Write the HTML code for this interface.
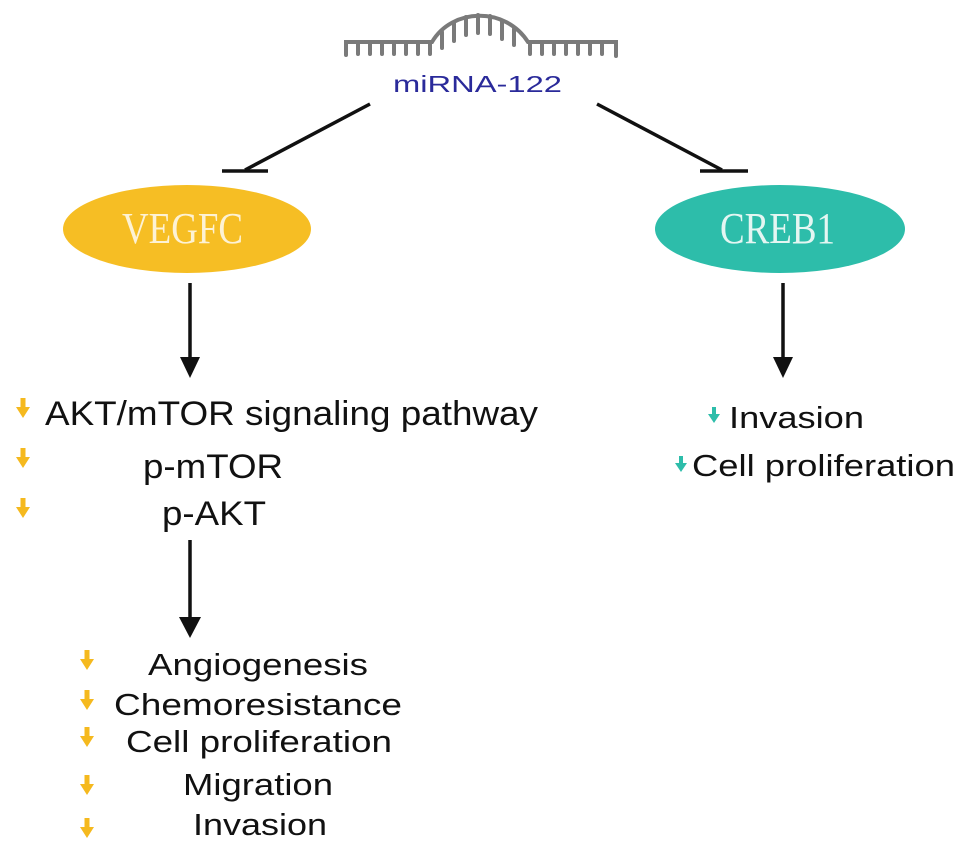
<!DOCTYPE html>
<html><head><meta charset="utf-8"><style>html,body{margin:0;padding:0;background:#fff}svg{display:block}</style></head>
<body>
<svg width="969" height="856" viewBox="0 0 969 856" xmlns="http://www.w3.org/2000/svg" font-family="Liberation Sans, sans-serif">
<defs>
<g id="ya"><rect x="-2.5" y="0" width="5" height="11" fill="#f5b91e"/><path d="M-7 9 L7 9 L0 20 Z" fill="#f5b91e"/></g>
<g id="ta"><rect x="-2" y="0" width="4" height="9" fill="#2dbdaa"/><path d="M-6 7 L6 7 L0 16 Z" fill="#2dbdaa"/></g>
</defs>
<g stroke="#7a7a7a" stroke-width="4" fill="none" stroke-linecap="round">
<path d="M346 55 L346 42 L432 42 C452 8 505 6 528 42 L616 42 L616 56"/>
<path d="M358 42v12 M370 42v12 M382 42v12 M394 42v12 M406 42v12 M418 42v12 M430 42v12
M442 32v16 M454 23v18 M466 17v18 M478 15v18 M490 16v18 M502 21v18 M514 29v16
M530 42v12 M542 42v12 M554 42v12 M566 42v12 M578 42v12 M590 42v12 M602 42v12"/>
</g>
<text x="393" y="92" font-size="23" fill="#2a2a9a" textLength="169" lengthAdjust="spacingAndGlyphs">miRNA-122</text>
<g stroke="#111" stroke-width="3.5">
<line x1="370" y1="104" x2="245" y2="170"/><line x1="222" y1="171" x2="268" y2="171"/>
<line x1="597" y1="104" x2="722" y2="170"/><line x1="700" y1="171" x2="748" y2="171"/>
</g>
<ellipse cx="187" cy="229" rx="124" ry="44" fill="#f6be24"/>
<ellipse cx="780" cy="229" rx="125" ry="44" fill="#2dbdaa"/>
<text x="122" y="243" font-family="Liberation Serif, serif" font-size="44" fill="#fdf2d4" textLength="121" lengthAdjust="spacingAndGlyphs">VEGFC</text>
<text x="720" y="243" font-family="Liberation Serif, serif" font-size="44" fill="#e4f6f2" textLength="115" lengthAdjust="spacingAndGlyphs">CREB1</text>
<g stroke="#111" stroke-width="3.5"><line x1="190" y1="283" x2="190" y2="360"/><line x1="783" y1="283" x2="783" y2="360"/><line x1="190" y1="540" x2="190" y2="620"/></g>
<g fill="#111"><path d="M180 357 L200 357 L190 378 Z"/><path d="M773 357 L793 357 L783 378 Z"/><path d="M179 617 L201 617 L190 638 Z"/></g>
<g font-size="34" fill="#111">
<text x="45" y="425" textLength="493" lengthAdjust="spacingAndGlyphs">AKT/mTOR signaling pathway</text>
<text x="143" y="478" textLength="140" lengthAdjust="spacingAndGlyphs">p-mTOR</text>
<text x="162" y="525" textLength="104" lengthAdjust="spacingAndGlyphs">p-AKT</text>
</g>
<g font-size="31" fill="#111">
<text x="148" y="675" textLength="220" lengthAdjust="spacingAndGlyphs">Angiogenesis</text>
<text x="114" y="715" textLength="288" lengthAdjust="spacingAndGlyphs">Chemoresistance</text>
<text x="126" y="752" textLength="266" lengthAdjust="spacingAndGlyphs">Cell proliferation</text>
<text x="183" y="795" textLength="150" lengthAdjust="spacingAndGlyphs">Migration</text>
<text x="193" y="835" textLength="134" lengthAdjust="spacingAndGlyphs">Invasion</text>
<text x="729" y="428" textLength="135" lengthAdjust="spacingAndGlyphs">Invasion</text>
<text x="692" y="476" textLength="263" lengthAdjust="spacingAndGlyphs">Cell proliferation</text>
</g>
<use href="#ya" x="23" y="398"/><use href="#ya" x="23" y="448"/><use href="#ya" x="23" y="498"/>
<use href="#ya" x="87" y="650"/><use href="#ya" x="87" y="690"/><use href="#ya" x="87" y="727"/><use href="#ya" x="87" y="775"/><use href="#ya" x="87" y="818"/>
<use href="#ta" x="714" y="407"/><use href="#ta" x="681" y="456"/>
</svg>
</body></html>
